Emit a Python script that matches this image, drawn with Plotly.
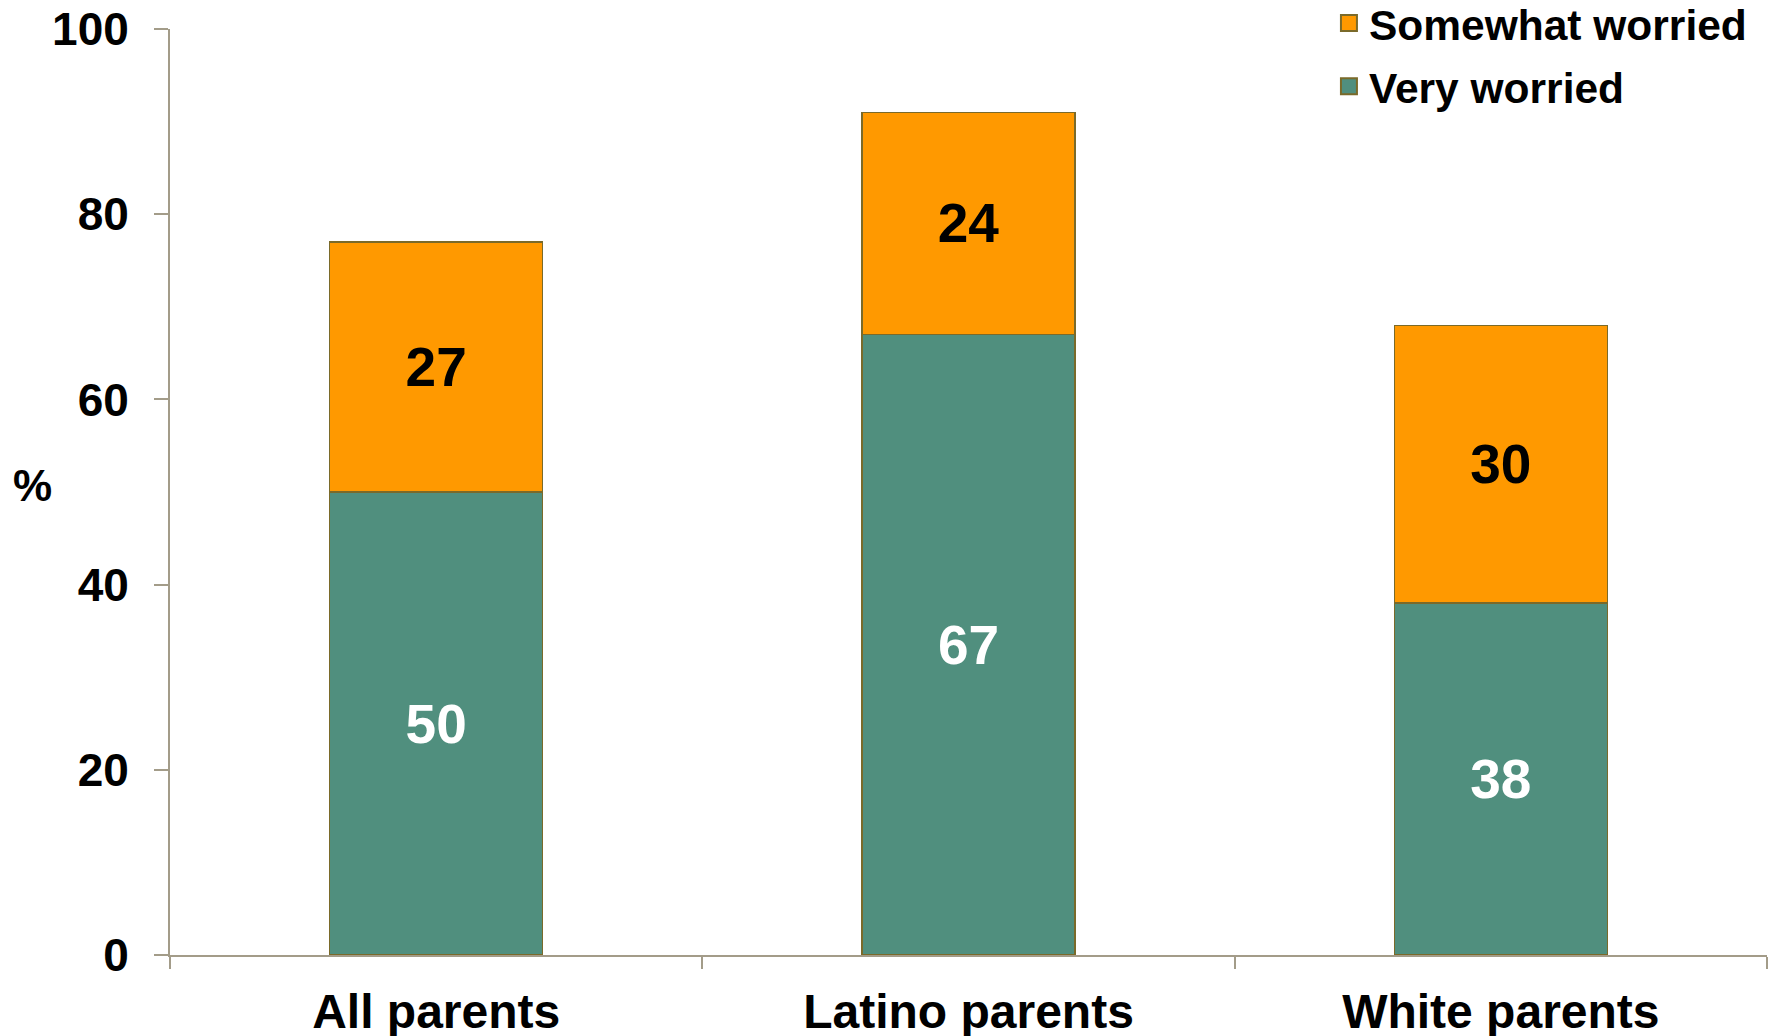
import plotly.graph_objects as go

categories = ["All parents", "Latino parents", "White parents"]
very_worried = [50, 67, 38]
somewhat_worried = [27, 24, 30]
y_ticks = [0, 20, 40, 60, 80, 100]

FONT = "Liberation Sans, Arial, sans-serif"
AXIS_COLOR = "#A39C89"
EDGE = "#7A6A2A"
GREEN = "#508F7E"
ORANGE = "#FF9900"

fig = go.Figure()
fig.add_trace(go.Bar(
    x=categories, y=very_worried, name="Very worried",
    marker=dict(color=GREEN, line=dict(color=EDGE, width=1.5)),
    text=[str(v) for v in very_worried], textposition="inside",
    insidetextanchor="middle",
    textfont=dict(family=FONT, size=55, color="white", weight="bold"),
    showlegend=False,
))
fig.add_trace(go.Bar(
    x=categories, y=somewhat_worried, name="Somewhat worried",
    marker=dict(color=ORANGE, line=dict(color=EDGE, width=1.5)),
    text=[str(v) for v in somewhat_worried], textposition="inside",
    insidetextanchor="middle",
    textfont=dict(family=FONT, size=55, color="black", weight="bold"),
    showlegend=False,
))
# legend entries (square swatches)
for name, col, rank in [("Somewhat worried", ORANGE, 1), ("Very worried", GREEN, 2)]:
    fig.add_trace(go.Scatter(
        x=[None], y=[None], mode="markers", name=name,
        marker=dict(symbol="square", size=16, color=col,
                    line=dict(color=EDGE, width=2)),
        legendrank=rank, legendgroup=name,
    ))

# the page body adds an 8px margin, so the figure is sized to compensate
fig.update_layout(
    width=1770, height=1028,
    barmode="stack", bargap=0.6,
    plot_bgcolor="white", paper_bgcolor="white",
    margin=dict(l=162, r=11, t=21, b=81, autoexpand=False),
    font=dict(family=FONT, color="black"),
    showlegend=True,
    legend=dict(
        x=0.7257, xanchor="left", y=1.0432, yanchor="top",
        traceorder="grouped", tracegroupgap=5,
        itemsizing="trace",
        font=dict(family=FONT, size=42.5, color="black", weight="bold"),
        bgcolor="rgba(0,0,0,0)",
    ),
)
fig.update_yaxes(
    range=[0, 100], tickvals=y_ticks, showgrid=False, zeroline=False,
    showline=True, linecolor=AXIS_COLOR, linewidth=2,
    ticks="outside", ticklen=14, tickwidth=2, tickcolor=AXIS_COLOR,
    ticklabelstandoff=16, automargin=False, ticklabeloverflow="allow",
    tickfont=dict(family=FONT, size=46, color="black", weight="bold"),
)
fig.update_xaxes(
    showgrid=False, showline=True, linecolor=AXIS_COLOR, linewidth=2,
    ticks="outside", tickson="boundaries", ticklen=12, tickwidth=2,
    tickcolor=AXIS_COLOR, ticklabelstandoff=13, automargin=False,
    ticklabeloverflow="allow",
    tickfont=dict(family=FONT, size=48, color="black", weight="bold"),
)
fig.add_annotation(
    text="%", xref="paper", yref="paper", x=-0.0858, y=0.507,
    xanchor="center", yanchor="middle", showarrow=False,
    font=dict(family=FONT, size=44, color="black", weight="bold"),
)

fig.write_html("out.html")
